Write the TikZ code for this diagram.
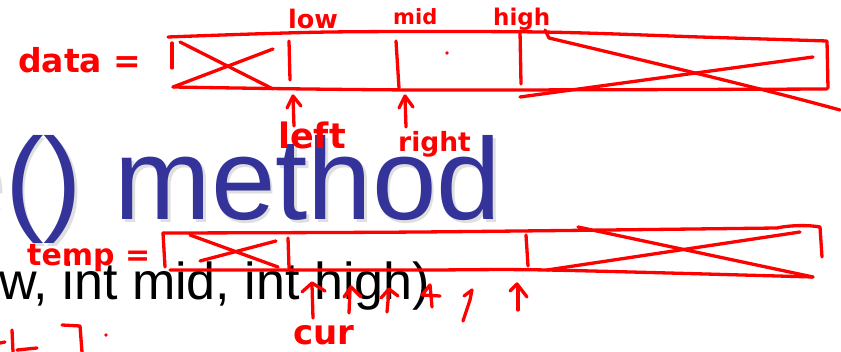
\documentclass[tikz,border=0pt]{standalone}
\usepackage{fontspec}
\setmainfont{Liberation Sans}
\newfontfamily\handfont{DejaVu Sans}
\definecolor{slideblue}{RGB}{51,51,153}
\definecolor{inkred}{RGB}{255,0,0}
\begin{document}
\begin{tikzpicture}[x=1pt,y=-1pt,
  ink/.style={draw=inkred,line width=3.3pt,line cap=round,line join=round},
  hand/.style={text=inkred,inner sep=0pt,anchor=base west,font=\handfont\bfseries}]
\useasboundingbox (0,0) rectangle (841,352);
% slide text
\node[anchor=base west,inner sep=0pt,text=gray!25] (shadow) at (-57,222.5) {\fontsize{116}{120}\selectfont e() method};
\node[anchor=base west,inner sep=0pt,text=slideblue] (title) at (-59.5,220) {\fontsize{116}{120}\selectfont e() method};
\node[anchor=base west,inner sep=0pt] (sig) at (-1,300) {\fontsize{52}{56}\selectfont w, int mid, int high)};
% ---- data array ----
\node[hand] (data) at (18,73) {\fontsize{33}{36}\selectfont data =};
\node[hand] (low) at (288,29) {\fontsize{25.5}{28}\selectfont low};
\node[hand] (mid) at (393,25) {\fontsize{21}{24}\selectfont mid};
\node[hand] (high) at (493,26) {\fontsize{23}{26}\selectfont high};
\draw[ink] plot[smooth] coordinates {(168,37) (330,32) (540,32) (700,37) (827,41)} -- (828,88);
\draw[ink] plot[smooth] coordinates {(173,87) (420,90) (827,89)};
\draw[ink] (172,43) -- (172,68);
\draw[ink] (180,42) -- (273,89);
\draw[ink] (173,87) -- (273,49);
\draw[ink] (289,41) -- (290,80);
\draw[ink] (396,41) -- (399,88);
\draw[ink] (520,31) -- (521,84);
\draw[ink] (545,30) -- (549,38) .. controls (650,62) and (760,88) .. (840,110);
\draw[ink] (520,97) -- (813,57);
\fill[inkred] (447,53) circle (1.8);
% arrows under data
\draw[ink] (293,97) -- (294,126);
\draw[ink] (287,108) -- (293,96) -- (301,106);
\node[hand] (left) at (278,149) {\fontsize{35}{38}\selectfont left};
\draw[ink] (405,97) -- (406,127);
\draw[ink] (399,108) -- (405,96) -- (413,107);
\node[hand] (right) at (398,152) {\fontsize{26.5}{29}\selectfont right};
% ---- temp array ----
\node[hand] (temp) at (27,266) {\fontsize{30}{33}\selectfont temp =};
\draw[ink] plot[smooth] coordinates {(163,233) (420,232) (777,228)} .. controls (790,225) and (810,225) .. (820,227) -- (822,257);
\draw[ink] (163,233) -- (165,267);
\draw[ink] plot[smooth] coordinates {(170,270) (420,270) (547,270) (813,277)};
\draw[ink] (190,235) -- (278,267);
\draw[ink] (200,261) -- (276,241);
\draw[ink] (288,238) -- (289,268);
\draw[ink] (526,235) -- (528,266);
\draw[ink] (578,227) -- (813,277);
\draw[ink] (547,270) -- (800,232);
% arrows under temp
\draw[ink] (312,285) -- (313,318);
\draw[ink] (302,292) -- (312,283) -- (325,291);
\node[hand] (cur) at (293,345) {\fontsize{34}{37}\selectfont cur};
\draw[ink] (350,289) -- (349,313);
\draw[ink] (344,297) -- (351,287) -- (361,297);
\draw[ink] (389,290) -- (387,312);
\draw[ink] (381,298) -- (389,289) -- (398,296);
\draw[ink] (430,285) -- (422,295) -- (440,296);
\draw[ink] (430,285) -- (432,307);
\draw[ink] (464,296) -- (472,290) -- (470,300) -- (463,321);
\draw[ink] (518,287) -- (518,310);
\draw[ink] (510,291) -- (517,284) -- (527,297);
% partial strokes at bottom left
\draw[ink] (0,343) -- (5,342);
\draw[ink] (12,330) -- (13,352);
\draw[ink] (17,350) -- (37,348);
\draw[ink] (62,325) -- (80,326) -- (82,352);
\fill[inkred] (106,335) circle (1.8);
\end{tikzpicture}
\end{document}
